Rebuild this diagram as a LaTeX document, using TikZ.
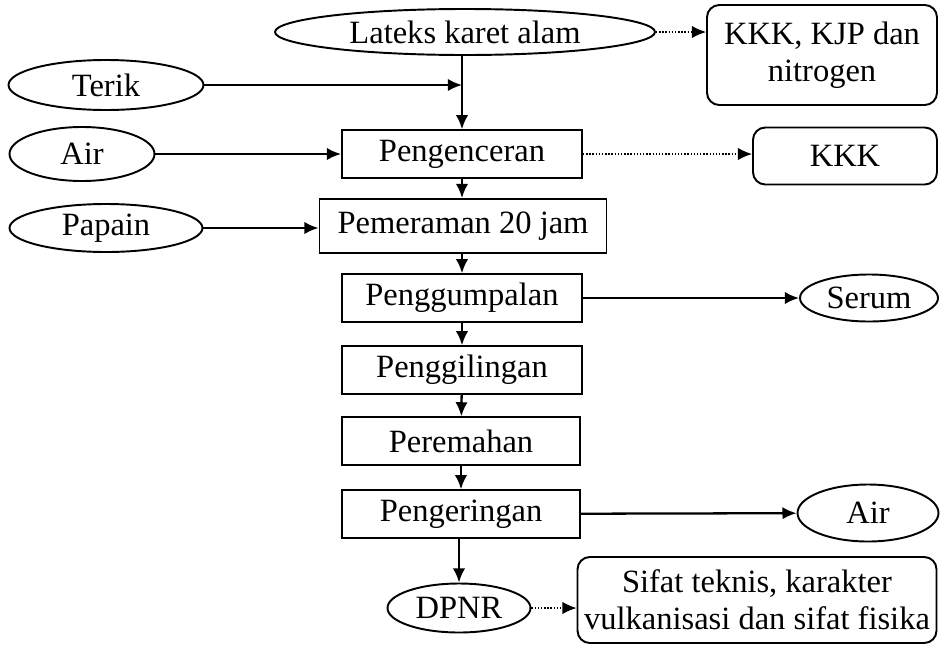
\documentclass[tikz,border=0pt]{standalone}
\usepackage{fontspec}
\setmainfont{Liberation Serif}
\usetikzlibrary{arrows.meta,shapes.geometric}

\begin{document}
\begin{tikzpicture}[>={Latex[length=8pt,width=7pt]},
  font=\fontsize{18.5}{21}\selectfont,
  proc/.style={draw=black, line width=1.1pt, rectangle, inner sep=0pt, minimum height=0.95cm},
  oval/.style={draw=black, line width=1.1pt, ellipse, inner sep=0pt},
  outbox/.style={draw=black, line width=1.1pt, rectangle, rounded corners=7pt, inner sep=0pt, align=center},
  flow/.style={->, line width=1.3pt},
  side/.style={->, line width=0.8pt, densely dotted}]
\useasboundingbox (0,0) rectangle (18.8,-12.9);

%main column
\node[oval, minimum width=7.6cm, minimum height=0.92cm] (lateks) at (9.30,-0.64)  {Lateks karet alam};
\node[proc, minimum width=4.8cm]  (pengenceran)  at (9.24,-3.08)  {Pengenceran};
\node[proc, minimum width=5.74cm, minimum height=1.08cm] (pemeraman) at (9.26,-4.52) {Pemeraman 20 jam};
\node[proc, minimum width=4.8cm]  (penggumpalan) at (9.24,-5.96)  {Penggumpalan};
\node[proc, minimum width=4.8cm]  (penggilingan) at (9.24,-7.40)  {Penggilingan};
\node[proc, minimum width=4.76cm] (peremahan)    at (9.22,-8.82)  {Peremahan};
\node[proc, minimum width=4.76cm] (pengeringan)  at (9.22,-10.28) {Pengeringan};
\node[oval, minimum width=2.86cm, minimum height=0.98cm] (dpnr) at (9.18,-12.16) {DPNR};

%inputs
\node[oval, minimum width=3.9cm,  minimum height=1.0cm]  (terik)  at (2.12,-1.70) {Terik};
\node[oval, minimum width=2.9cm,  minimum height=1.08cm] (airin)  at (1.64,-3.08) {Air};
\node[oval, minimum width=3.86cm, minimum height=0.96cm] (papain) at (2.12,-4.56) {Papain};

%outputs
\node[outbox, minimum width=4.6cm,  minimum height=2.0cm]  (kjp)   at (16.44,-1.10) {KKK, KJP dan\\nitrogen};
\node[outbox, minimum width=3.68cm, minimum height=1.14cm] (kkk)   at (16.90,-3.12) {KKK};
\node[oval,   minimum width=2.76cm, minimum height=0.94cm] (serum) at (17.38,-5.96) {Serum};
\node[oval,   minimum width=2.82cm, minimum height=1.14cm] (airout) at (17.36,-10.26) {Air};
\node[outbox, minimum width=7.18cm, minimum height=1.72cm] (sifat) at (15.14,-12.0) {Sifat teknis, karakter\\vulkanisasi dan sifat fisika};

\coordinate (join) at (terik.east -| pengenceran.north);

%flow lines
\draw [flow] (pengenceran.north |- lateks.south) -- (pengenceran.north);
\draw [flow] (terik) -- (join);
\draw [flow] (airin) -- (pengenceran);
\draw [flow] (papain) -- (pemeraman.west |- papain.east);
\draw [flow] (pengenceran) -- (pemeraman.north -| pengenceran.south);
\draw [flow] (pemeraman.south -| penggumpalan.north) -- (penggumpalan);
\draw [flow] (penggumpalan) -- (penggilingan);
\draw [flow] (penggilingan) -- (peremahan);
\draw [flow] (peremahan) -- (pengeringan);
\draw [flow] (pengeringan.south -| dpnr.north) -- (dpnr);
\draw [flow] (penggumpalan) -- (serum);
\draw [flow] (pengeringan) -- (airout);

%dotted lines
\draw [side] (lateks.east) -- (kjp.west |- lateks.east);
\draw [side] (pengenceran) -- (kkk.west |- pengenceran.east);
\draw [side] (dpnr) -- (sifat.west |- dpnr.east);
\end{tikzpicture}
\end{document}
